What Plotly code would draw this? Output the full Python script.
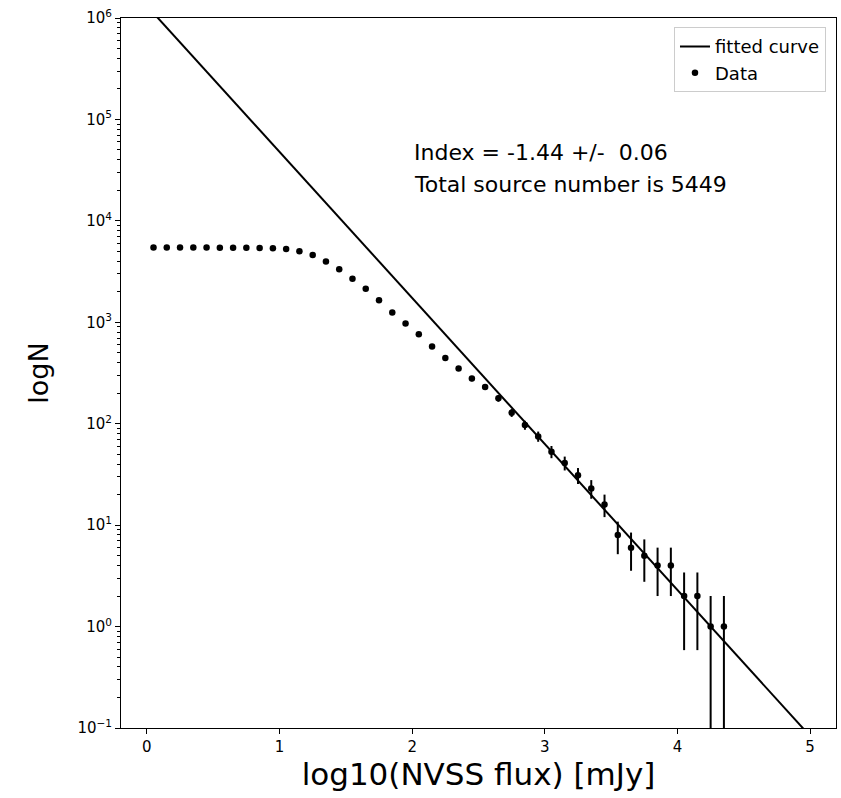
import numpy as np
import plotly.graph_objects as go

# ---- data ----
log_flux = [round(0.05 + 0.1 * i, 2) for i in range(44)]
counts = [5449, 5449, 5449, 5449, 5448, 5446, 5440, 5428, 5405, 5365,
          5290, 5025, 4617, 3967, 3336, 2680, 2136, 1652, 1248, 973,
          764, 576, 444, 350, 279, 230, 178, 128, 97, 75,
          53, 41, 31, 23, 16, 8, 6, 5, 4, 4,
          2, 2, 1, 1]
count_err = list(np.sqrt(counts))

fit_index = -1.44
fit_intercept = 6.12
fit_x = [0.05, 4.95]
fit_y = [10 ** (fit_intercept + fit_index * x) for x in fit_x]

y_tickvals = [0.1, 1, 10, 100, 1000, 10000, 100000, 1000000]
y_ticktext = ["10<sup>−1</sup>", "10<sup>0</sup>", "10<sup>1</sup>", "10<sup>2</sup>",
              "10<sup>3</sup>", "10<sup>4</sup>", "10<sup>5</sup>", "10<sup>6</sup>"]
y_minor = [k * 10.0 ** e for e in range(-1, 6) for k in range(2, 10)]
x_tickvals = [0, 1, 2, 3, 4, 5]

FONT = "DejaVu Sans"

fig = go.Figure()
fig.add_trace(go.Scatter(
    x=fit_x, y=fit_y, mode="lines", name="fitted curve",
    line=dict(color="black", width=2),
))
fig.add_trace(go.Scatter(
    x=log_flux, y=counts, mode="markers", name="Data",
    marker=dict(color="black", size=6.5),
    error_y=dict(type="data", array=count_err, visible=True,
                 color="black", thickness=2, width=0),
))

fig.add_annotation(x=2.0, y=4.67, xref="x", yref="y",
                   text="Index = -1.44 +/-  0.06", showarrow=False,
                   xanchor="left", yanchor="middle",
                   font=dict(family=FONT, size=22, color="black"))
fig.add_annotation(x=2.0, y=4.355, xref="x", yref="y",
                   text="Total source number is 5449", showarrow=False,
                   xanchor="left", yanchor="middle",
                   font=dict(family=FONT, size=22, color="black"))

fig.update_layout(
    width=841, height=798,
    margin=dict(l=121, r=5, t=18, b=70),
    paper_bgcolor="white", plot_bgcolor="white",
    font=dict(family=FONT, color="black"),
    showlegend=True,
    legend=dict(x=0.986, y=0.987, xanchor="right", yanchor="top",
                bgcolor="white", bordercolor="#cccccc", borderwidth=1,
                font=dict(family=FONT, size=18, color="black"),
                tracegroupgap=0),
)
fig.update_xaxes(
    range=[-0.195, 5.195], tickvals=x_tickvals,
    showline=True, linecolor="black", linewidth=1, mirror=True,
    ticks="outside", ticklen=5, tickcolor="black",
    showgrid=False, zeroline=False,
    tickfont=dict(family=FONT, size=15, color="black"),
    title=dict(text="log10(NVSS flux) [mJy]",
               font=dict(family=FONT, size=31, color="black"), standoff=6),
)
fig.update_yaxes(
    type="log", range=[-1, 6], tickvals=y_tickvals, ticktext=y_ticktext,
    showline=True, linecolor="black", linewidth=1, mirror=True,
    ticks="outside", ticklen=5, tickcolor="black",
    minor=dict(tickvals=y_minor, ticks="outside", ticklen=3, tickcolor="black"),
    showgrid=False, zeroline=False,
    tickfont=dict(family=FONT, size=15, color="black"),
    title=dict(text="logN", font=dict(family=FONT, size=27, color="black"),
               standoff=20),
)

fig.write_html("out.html")
